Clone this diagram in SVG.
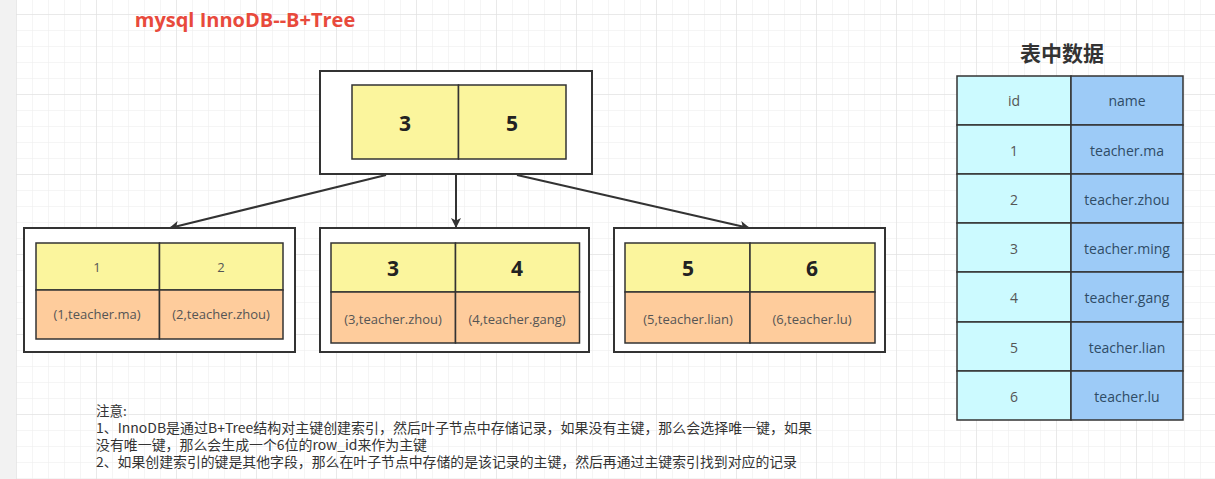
<svg xmlns="http://www.w3.org/2000/svg" width="1215" height="479" viewBox="0 0 1215 479">
<defs>
<pattern id="minor" x="16" y="14" width="16" height="16" patternUnits="userSpaceOnUse">
<path d="M0 0 H16 M0 0 V16" fill="none" stroke="#ececec" stroke-width="1"/>
</pattern>
<pattern id="major" x="16" y="14" width="80" height="80" patternUnits="userSpaceOnUse">
<path d="M0 0 H80 M0 0 V80" fill="none" stroke="#dedede" stroke-width="1"/>
</pattern>
<marker id="arr" viewBox="0 0 10 10" refX="9" refY="5" markerWidth="10" markerHeight="10" markerUnits="userSpaceOnUse" orient="auto">
<path d="M0 0 L10 5 L0 10 L2.5 5 Z" fill="#333"/>
</marker>
<style>
.outer{fill:#fff;stroke:#333;stroke-width:2}
.y{fill:#fbf59d;stroke:#333;stroke-width:1.5}
.o{fill:#fecc9c;stroke:#333;stroke-width:1.5}
.c1{fill:#ccfaff;stroke:#333;stroke-width:1.5}
.c2{fill:#9dcbf7;stroke:#333;stroke-width:1.5}
text{font-family:"Open Sans","Noto Sans CJK SC",sans-serif;text-anchor:middle;dominant-baseline:central}
.big{font-size:21px;font-weight:bold;fill:#222}
.sm{font-size:13px;fill:#555}
.tl{font-size:14px;fill:#555}
.tr{font-size:14px;fill:#2f4c66}
.note{font-family:"Noto Sans CJK SC",sans-serif;font-size:13.5px;fill:#333;text-anchor:start;dominant-baseline:auto}
.conn{fill:none;stroke:#333;stroke-width:2;marker-end:url(#arr)}
</style>
</defs>
<rect width="1215" height="479" fill="#fff"/>
<rect x="16" y="0" width="1199" height="479" fill="url(#minor)"/>
<rect x="16" y="0" width="1199" height="479" fill="url(#major)"/>
<rect x="0" y="0" width="16" height="479" fill="#f2f2f2"/>

<text id="title" x="245" y="19" style="font-size:20px;font-weight:bold;fill:#e84a3c;font-family:'Open Sans','Noto Sans CJK SC',sans-serif">mysql InnoDB--B+Tree</text>

<g id="edges">
<line class="conn" x1="386" y1="175" x2="170" y2="228"/>
<line class="conn" x1="456" y1="175" x2="456" y2="227"/>
<line class="conn" x1="517" y1="175" x2="749" y2="228"/>
</g>

<g id="root">
<rect class="outer" x="320" y="71" width="272" height="103"/>
<rect class="y" x="352" y="85" width="106.5" height="74"/>
<rect class="y" x="458.5" y="85" width="107.5" height="74"/>
<text class="big" x="405" y="123">3</text>
<text class="big" x="512" y="123">5</text>
</g>

<g id="leaf1">
<rect class="outer" x="24" y="228" width="271" height="124"/>
<rect class="y" x="36" y="243" width="123.5" height="47"/>
<rect class="y" x="159.5" y="243" width="123.5" height="47"/>
<rect class="o" x="36" y="290" width="123.5" height="49"/>
<rect class="o" x="159.5" y="290" width="123.5" height="49"/>
<text class="sm" x="97" y="267">1</text>
<text class="sm" x="221" y="267">2</text>
<text class="sm" x="97" y="314">(1,teacher.ma)</text>
<text class="sm" x="221" y="314">(2,teacher.zhou)</text>
</g>

<g id="leaf2">
<rect class="outer" x="320" y="228" width="269" height="124"/>
<rect class="y" x="331" y="243" width="124.5" height="49"/>
<rect class="y" x="455.5" y="243" width="124" height="49"/>
<rect class="o" x="331" y="292" width="124.5" height="51"/>
<rect class="o" x="455.5" y="292" width="124" height="51"/>
<text class="big" x="393" y="268">3</text>
<text class="big" x="517" y="268">4</text>
<text class="sm" x="393" y="319">(3,teacher.zhou)</text>
<text class="sm" x="517" y="319">(4,teacher.gang)</text>
</g>

<g id="leaf3">
<rect class="outer" x="614" y="228" width="271" height="124"/>
<rect class="y" x="625" y="243" width="125" height="49"/>
<rect class="y" x="750" y="243" width="125" height="49"/>
<rect class="o" x="625" y="292" width="125" height="51"/>
<rect class="o" x="750" y="292" width="125" height="51"/>
<text class="big" x="688" y="268">5</text>
<text class="big" x="812" y="268">6</text>
<text class="sm" x="688" y="319">(5,teacher.lian)</text>
<text class="sm" x="812" y="319">(6,teacher.lu)</text>
</g>

<g id="table">
<text x="1062" y="52" style="font-family:'Noto Sans CJK SC',sans-serif;font-size:21px;font-weight:bold;fill:#333">表中数据</text>
<rect class="c1" x="957" y="76" width="114" height="49"/>
<rect class="c2" x="1071" y="76" width="112" height="49"/>
<rect class="c1" x="957" y="125" width="114" height="49"/>
<rect class="c2" x="1071" y="125" width="112" height="49"/>
<rect class="c1" x="957" y="174" width="114" height="49"/>
<rect class="c2" x="1071" y="174" width="112" height="49"/>
<rect class="c1" x="957" y="223" width="114" height="49"/>
<rect class="c2" x="1071" y="223" width="112" height="49"/>
<rect class="c1" x="957" y="272" width="114" height="50"/>
<rect class="c2" x="1071" y="272" width="112" height="50"/>
<rect class="c1" x="957" y="322" width="114" height="49"/>
<rect class="c2" x="1071" y="322" width="112" height="49"/>
<rect class="c1" x="957" y="371" width="114" height="49"/>
<rect class="c2" x="1071" y="371" width="112" height="49"/>
<text class="tl" x="1014" y="100">id</text>
<text class="tr" x="1127" y="100">name</text>
<text class="tl" x="1014" y="150">1</text>
<text class="tr" x="1127" y="150">teacher.ma</text>
<text class="tl" x="1014" y="199">2</text>
<text class="tr" x="1127" y="199">teacher.zhou</text>
<text class="tl" x="1014" y="248">3</text>
<text class="tr" x="1127" y="248">teacher.ming</text>
<text class="tl" x="1014" y="297">4</text>
<text class="tr" x="1127" y="297">teacher.gang</text>
<text class="tl" x="1014" y="347">5</text>
<text class="tr" x="1127" y="347">teacher.lian</text>
<text class="tl" x="1014" y="396">6</text>
<text class="tr" x="1127" y="396">teacher.lu</text>
</g>

<g id="notes">
<text class="note" x="96" y="416">注意:</text>
<text class="note" x="96" y="433" textLength="716" lengthAdjust="spacingAndGlyphs">1、InnoDB是通过B+Tree结构对主键创建索引，然后叶子节点中存储记录，如果没有主键，那么会选择唯一键，如果</text>
<text class="note" x="96" y="450" textLength="331" lengthAdjust="spacingAndGlyphs">没有唯一键，那么会生成一个6位的row_id来作为主键</text>
<text class="note" x="96" y="467" textLength="701" lengthAdjust="spacingAndGlyphs">2、如果创建索引的键是其他字段，那么在叶子节点中存储的是该记录的主键，然后再通过主键索引找到对应的记录</text>
</g>
</svg>
